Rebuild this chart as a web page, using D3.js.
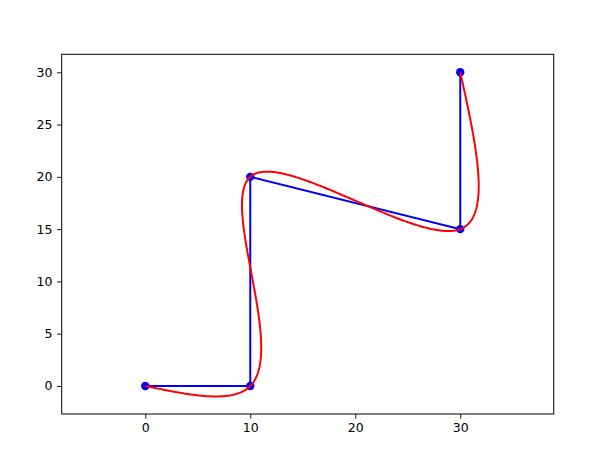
<!DOCTYPE html>
<html>
<head>
<meta charset="utf-8">
<script src="https://cdn.jsdelivr.net/npm/d3@7"></script>
<style>
  body { margin: 0; background: #fff; }
  svg text { font-family: "DejaVu Sans", sans-serif; }
</style>
</head>
<body>
<div id="chart"></div>
<script>
// control points of the path
const xs = [0, 10, 10, 30, 30];
const ys = [0, 0, 20, 15, 30];
const xTicks = [0, 10, 20, 30];
const yTicks = [0, 5, 10, 15, 20, 25, 30];

(function() {
  const W = 614, H = 460;
  const box = { left: 61.7, right: 553.7, top: 54.3, bottom: 414 };

  const svg = d3.select('#chart').append('svg')
    .attr('width', W).attr('height', H);

  const x = d3.scaleLinear().domain([-7.96, 38.9]).range([box.left, box.right]);
  const y = d3.scaleLinear().domain([-2.68, 31.72]).range([box.bottom, box.top]);

  // chord length parameter for the smooth curve
  const d = [0];
  for (let i = 1; i < xs.length; i++) {
    d.push(d[i - 1] + Math.hypot(xs[i] - xs[i - 1], ys[i] - ys[i - 1]));
  }
  const u = d.map(v => v / d[d.length - 1]);

  function solve(A, b) {
    const n = b.length;
    const M = A.map((r, i) => r.concat([b[i]]));
    for (let c = 0; c < n; c++) {
      let p = c;
      for (let r = c + 1; r < n; r++) if (Math.abs(M[r][c]) > Math.abs(M[p][c])) p = r;
      [M[c], M[p]] = [M[p], M[c]];
      for (let r = 0; r < n; r++) {
        if (r === c) continue;
        const f = M[r][c] / M[c][c];
        for (let j = c; j <= n; j++) M[r][j] -= f * M[c][j];
      }
    }
    return M.map((r, i) => r[n] / r[i]);
  }

  // natural cubic spline of one coordinate against u
  function spline(v) {
    const P = u.length - 1, N = 4 * P;
    const A = [], b = [];
    const row = () => new Array(N).fill(0);
    for (let i = 0; i < P; i++) {
      const h = u[i + 1] - u[i];
      let r = row(); r[4 * i] = 1; A.push(r); b.push(v[i]);
      r = row(); r[4 * i] = 1; r[4 * i + 1] = h; r[4 * i + 2] = h * h; r[4 * i + 3] = h * h * h; A.push(r); b.push(v[i + 1]);
    }
    for (let i = 0; i < P - 1; i++) {
      const h = u[i + 1] - u[i];
      let r = row(); r[4 * i + 1] = 1; r[4 * i + 2] = 2 * h; r[4 * i + 3] = 3 * h * h; r[4 * i + 5] = -1; A.push(r); b.push(0);
      r = row(); r[4 * i + 2] = 2; r[4 * i + 3] = 6 * h; r[4 * i + 6] = -2; A.push(r); b.push(0);
    }
    const hl = u[P] - u[P - 1];
    let r = row(); r[2] = 2; A.push(r); b.push(0);
    r = row(); r[4 * (P - 1) + 2] = 2; r[4 * (P - 1) + 3] = 6 * hl; A.push(r); b.push(0);
    const c = solve(A, b);
    return t => {
      let i = 0;
      while (i < P - 1 && t > u[i + 1]) i++;
      const s = t - u[i];
      return c[4 * i] + c[4 * i + 1] * s + c[4 * i + 2] * s * s + c[4 * i + 3] * s * s * s;
    };
  }

  const fx = spline(xs), fy = spline(ys);
  const curve = d3.range(0, 1.0001, 0.0025).map(t => [fx(t), fy(t)]);

  const pts = xs.map((v, i) => [v, ys[i]]);
  const line = d3.line().x(p => x(p[0])).y(p => y(p[1]));

  svg.append('g').selectAll('circle')
    .data(pts).enter().append('circle')
    .attr('cx', p => x(p[0])).attr('cy', p => y(p[1]))
    .attr('r', 4.2).attr('fill', '#0000ff');

  svg.append('path').datum(pts)
    .attr('d', line).attr('fill', 'none')
    .attr('stroke', '#0000ff').attr('stroke-width', 2);

  svg.append('path').datum(curve)
    .attr('d', line).attr('fill', 'none')
    .attr('stroke', '#ff0000').attr('stroke-width', 2);

  // axes
  const xAxis = d3.axisBottom(x).tickValues(xTicks).tickSize(4.7).tickPadding(4.5).tickFormat(d3.format('d'));
  const yAxis = d3.axisLeft(y).tickValues(yTicks).tickSize(4.7).tickPadding(4.5).tickFormat(d3.format('d'));

  const gx = svg.append('g').attr('transform', `translate(0,${box.bottom})`).call(xAxis);
  const gy = svg.append('g').attr('transform', `translate(${box.left},0)`).call(yAxis);
  [gx, gy].forEach(g => {
    g.select('.domain').remove();
    g.selectAll('line').attr('stroke', '#000').attr('stroke-width', 0.9);
    g.selectAll('text').attr('fill', '#000').style('font-size', '12.5px');
  });

  svg.append('rect')
    .attr('x', box.left).attr('y', box.top)
    .attr('width', box.right - box.left).attr('height', box.bottom - box.top)
    .attr('fill', 'none').attr('stroke', '#000').attr('stroke-width', 1);
})();
</script>
</body>
</html>
